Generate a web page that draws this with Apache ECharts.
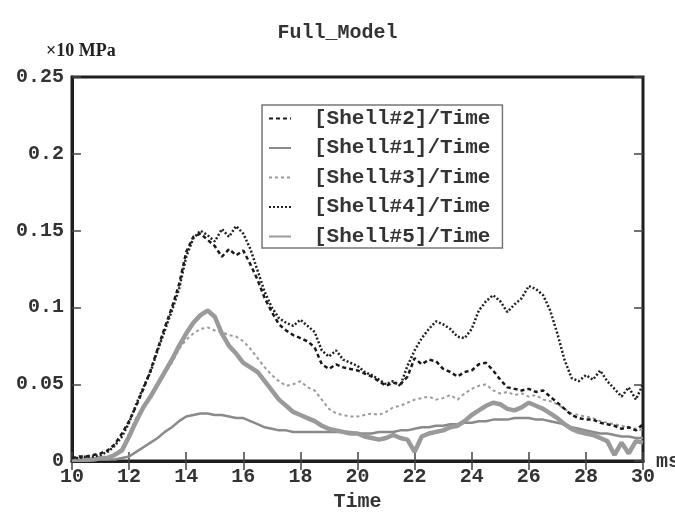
<!DOCTYPE html>
<html>
<head>
<meta charset="utf-8">
<script src="https://cdn.jsdelivr.net/npm/echarts@6/dist/echarts.min.js"></script>
<style>
  html, body { margin: 0; padding: 0; background: #fff; }
  #chart { width: 675px; height: 517px; }
</style>
</head>
<body>
<div id="chart"></div>
<script>
// time axis, 0.25 ms steps from 10 to 30
const times = [
  10, 10.25, 10.5, 10.75, 11, 11.25, 11.5, 11.75, 12, 12.25, 12.5, 12.75, 13, 13.25, 13.5, 13.75,
  14, 14.25, 14.5, 14.75, 15, 15.25, 15.5, 15.75, 16, 16.25, 16.5, 16.75, 17, 17.25, 17.5, 17.75,
  18, 18.25, 18.5, 18.75, 19, 19.25, 19.5, 19.75, 20, 20.25, 20.5, 20.75, 21, 21.25, 21.5, 21.75,
  22, 22.25, 22.5, 22.75, 23, 23.25, 23.5, 23.75, 24, 24.25, 24.5, 24.75, 25, 25.25, 25.5, 25.75,
  26, 26.25, 26.5, 26.75, 27, 27.25, 27.5, 27.75, 28, 28.25, 28.5, 28.75, 29, 29.25, 29.5, 29.75, 30
];

const shell2 = [
  0.002, 0.003, 0.003, 0.004, 0.005, 0.007, 0.011, 0.018, 0.026, 0.036, 0.047, 0.059, 0.073, 0.087, 0.100, 0.115,
  0.136, 0.146, 0.148, 0.144, 0.140, 0.133, 0.138, 0.134, 0.137, 0.128, 0.118, 0.106, 0.097, 0.089, 0.085, 0.082,
  0.080, 0.078, 0.074, 0.063, 0.060, 0.063, 0.061, 0.060, 0.059, 0.057, 0.055, 0.052, 0.049, 0.051, 0.050, 0.055,
  0.067, 0.063, 0.066, 0.065, 0.060, 0.058, 0.055, 0.058, 0.059, 0.063, 0.064, 0.059, 0.053, 0.048, 0.047, 0.046,
  0.047, 0.045, 0.046, 0.042, 0.038, 0.034, 0.030, 0.028, 0.027, 0.027, 0.025, 0.024, 0.023, 0.021, 0.022, 0.020, 0.024
];

const shell1 = [
  0.000, 0.000, 0.000, 0.001, 0.001, 0.001, 0.001, 0.002, 0.003, 0.006, 0.009, 0.012, 0.015, 0.019, 0.022, 0.026,
  0.029, 0.030, 0.031, 0.031, 0.030, 0.030, 0.029, 0.028, 0.028, 0.026, 0.024, 0.022, 0.021, 0.020, 0.020, 0.019,
  0.019, 0.019, 0.019, 0.019, 0.019, 0.019, 0.019, 0.019, 0.018, 0.018, 0.018, 0.019, 0.019, 0.019, 0.020, 0.020,
  0.021, 0.022, 0.022, 0.023, 0.023, 0.024, 0.024, 0.025, 0.025, 0.026, 0.026, 0.027, 0.027, 0.027, 0.028, 0.028,
  0.028, 0.027, 0.027, 0.026, 0.025, 0.024, 0.022, 0.021, 0.020, 0.019, 0.018, 0.018, 0.017, 0.016, 0.016, 0.015, 0.015
];

const shell3 = [
  0.001, 0.001, 0.001, 0.002, 0.002, 0.003, 0.005, 0.008, 0.018, 0.028, 0.036, 0.043, 0.050, 0.057, 0.064, 0.073,
  0.079, 0.083, 0.086, 0.087, 0.085, 0.084, 0.082, 0.081, 0.078, 0.073, 0.067, 0.061, 0.056, 0.052, 0.049, 0.050,
  0.052, 0.048, 0.046, 0.040, 0.034, 0.031, 0.030, 0.029, 0.029, 0.030, 0.031, 0.030, 0.032, 0.035, 0.036, 0.038,
  0.040, 0.041, 0.042, 0.040, 0.041, 0.043, 0.040, 0.044, 0.047, 0.049, 0.050, 0.046, 0.044, 0.045, 0.043, 0.044,
  0.042, 0.043, 0.040, 0.039, 0.037, 0.034, 0.031, 0.030, 0.029, 0.028, 0.026, 0.025, 0.024, 0.023, 0.022, 0.021, 0.020
];

const shell4 = [
  0.002, 0.002, 0.003, 0.003, 0.004, 0.006, 0.010, 0.016, 0.025, 0.037, 0.048, 0.058, 0.072, 0.085, 0.098, 0.112,
  0.133, 0.145, 0.150, 0.147, 0.143, 0.151, 0.146, 0.153, 0.148, 0.138, 0.124, 0.110, 0.100, 0.093, 0.090, 0.088,
  0.092, 0.088, 0.084, 0.072, 0.068, 0.072, 0.066, 0.064, 0.062, 0.058, 0.056, 0.053, 0.050, 0.052, 0.049, 0.062,
  0.072, 0.080, 0.086, 0.091, 0.089, 0.086, 0.081, 0.080, 0.086, 0.098, 0.104, 0.108, 0.104, 0.097, 0.102, 0.106,
  0.114, 0.112, 0.108, 0.098, 0.083, 0.066, 0.054, 0.052, 0.056, 0.053, 0.059, 0.052, 0.047, 0.042, 0.048, 0.040, 0.050
];

const shell5 = [
  0.001, 0.001, 0.001, 0.001, 0.002, 0.002, 0.004, 0.007, 0.016, 0.026, 0.035, 0.042, 0.050, 0.058, 0.066, 0.075,
  0.083, 0.090, 0.095, 0.098, 0.094, 0.083, 0.075, 0.070, 0.064, 0.061, 0.058, 0.052, 0.046, 0.040, 0.036, 0.032,
  0.030, 0.028, 0.026, 0.023, 0.021, 0.020, 0.019, 0.018, 0.018, 0.016, 0.015, 0.014, 0.015, 0.017, 0.015, 0.014,
  0.006, 0.016, 0.018, 0.019, 0.020, 0.022, 0.023, 0.026, 0.030, 0.033, 0.036, 0.038, 0.037, 0.034, 0.033, 0.035,
  0.038, 0.036, 0.034, 0.031, 0.028, 0.024, 0.021, 0.019, 0.018, 0.017, 0.015, 0.013, 0.004, 0.012, 0.005, 0.013, 0.012
];

const legendOrder = ['[Shell#2]/Time', '[Shell#1]/Time', '[Shell#3]/Time', '[Shell#4]/Time', '[Shell#5]/Time'];

const mono = 'Liberation Mono';
const frame = '#1e1e1e';

const pairs = (vals) => times.map((t, i) => [t, vals[i]]);

const line = (name, vals, color, width, type) => ({
  name,
  type: 'line',
  data: pairs(vals),
  showSymbol: false,
  symbol: 'none',
  animation: false,
  lineStyle: { color, width, type },
  itemStyle: { color },
});

const chart = echarts.init(document.getElementById('chart'));

const option = {
  backgroundColor: '#fff',
  animation: false,
  title: {
    text: 'Full_Model',
    left: 'center',
    top: 18,
    textStyle: { fontFamily: mono, fontWeight: 'bold', fontSize: 20, color: '#333' },
  },
  grid: {
    left: 72,
    right: 32,
    top: 77,
    bottom: 48,
    show: true,
    borderColor: frame,
    borderWidth: 3,
  },
  legend: {
    orient: 'vertical',
    left: 262,
    top: 105,
    data: legendOrder,
    backgroundColor: '#fff',
    borderColor: '#777',
    borderWidth: 1.5,
    borderRadius: 0,
    padding: [3, 12, 1, 6],
    itemWidth: 22,
    itemHeight: 14,
    itemGap: 8.5,
    itemStyle: { opacity: 0 },
    textStyle: {
      fontFamily: mono,
      fontWeight: 'bold',
      fontSize: 21,
      color: '#333',
      padding: [0, 0, 0, 18],
    },
  },
  xAxis: [
    {
      type: 'value',
      min: 10,
      max: 30,
      interval: 2,
      name: 'Time',
      nameLocation: 'middle',
      nameGap: 28,
      nameTextStyle: { fontFamily: mono, fontWeight: 'bold', fontSize: 20, color: '#333' },
      axisLine: { show: true, onZero: false, lineStyle: { color: frame, width: 3 } },
      axisTick: { show: true, inside: true, length: 9, lineStyle: { color: '#444', width: 1.5 } },
      axisLabel: { fontFamily: mono, fontWeight: 'bold', fontSize: 20, color: '#333', margin: 6 },
      splitLine: { show: false },
    },
    {
      type: 'value',
      position: 'top',
      min: 10,
      max: 30,
      interval: 2,
      axisLine: { show: false },
      axisTick: { show: true, inside: true, length: 9, lineStyle: { color: '#444', width: 1.5 } },
      axisLabel: { show: false },
      splitLine: { show: false },
    },
  ],
  yAxis: [
    {
      type: 'value',
      min: 0,
      max: 0.25,
      interval: 0.05,
      axisLine: { show: true, onZero: false, lineStyle: { color: frame, width: 3 } },
      axisTick: { show: true, inside: true, length: 9, lineStyle: { color: '#444', width: 1.5 } },
      axisLabel: { fontFamily: mono, fontWeight: 'bold', fontSize: 20, color: '#333', margin: 8 },
      splitLine: { show: false },
    },
    {
      type: 'value',
      position: 'right',
      min: 0,
      max: 0.25,
      interval: 0.05,
      axisLine: { show: false },
      axisTick: { show: true, inside: true, length: 9, lineStyle: { color: '#444', width: 1.5 } },
      axisLabel: { show: false },
      splitLine: { show: false },
    },
  ],
  graphic: [
    {
      type: 'text',
      left: 46,
      top: 42,
      style: { text: '×10 MPa', fontFamily: 'Liberation Serif', fontWeight: 'bold', fontSize: 18, fill: '#222' },
    },
    {
      type: 'text',
      left: 656,
      top: 452,
      style: { text: 'ms', fontFamily: mono, fontWeight: 'bold', fontSize: 20, fill: '#333' },
    },
  ],
  series: [
    line('[Shell#1]/Time', shell1, '#8a8a8a', 2.5, 'solid'),
    line('[Shell#5]/Time', shell5, '#9a9a9a', 4.5, 'solid'),
    line('[Shell#3]/Time', shell3, '#9a9a9a', 2, [3, 3]),
    line('[Shell#2]/Time', shell2, '#1a1a1a', 2.5, [4, 3]),
    line('[Shell#4]/Time', shell4, '#222', 2.5, [2, 2]),
  ],
};

chart.setOption(option);
</script>
</body>
</html>
